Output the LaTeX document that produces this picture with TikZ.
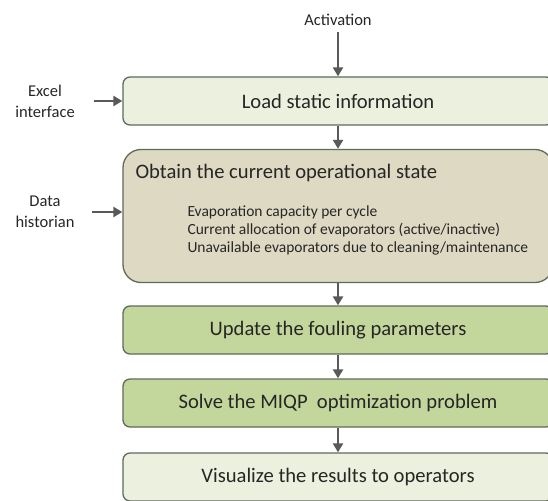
\documentclass[tikz,border=0pt]{standalone}
\usepackage{fontspec}
\setmainfont{Carlito}
\usetikzlibrary{arrows.meta}

\definecolor{boxline}{HTML}{5F6B5B}
\definecolor{arrowgray}{HTML}{595959}
\definecolor{palegreen}{HTML}{EBF1DE}
\definecolor{tanbox}{HTML}{DDD9C3}
\definecolor{midgreen}{HTML}{C3D69B}

\tikzset{
	stepbox/.style={draw=boxline, line width=1.3pt, rounded corners=7pt,
		minimum width=430pt, minimum height=48pt,
		font=\fontsize{20.6}{24}\selectfont, text=black!85},
	flow/.style={-{Triangle[length=9pt,width=10pt]}, draw=arrowgray, line width=2.3pt},
	side/.style={align=center, font=\fontsize{16.5}{21}\selectfont, text=black!85}
}

\begin{document}
\begin{tikzpicture}[x=1pt,y=-1pt]
	\useasboundingbox (0,0) rectangle (548,500);
	\clip (0,0) rectangle (548,500);
	% main flow
	\node[side] (act) at (338,20) {Activation};
	\node[stepbox, fill=palegreen] (load) at (338,101) {Load static information};
	\node[stepbox, fill=tanbox, minimum height=133pt, rounded corners=18pt] (state) at (338,216) {};
	\node[anchor=west, font=\fontsize{20.6}{24}\selectfont, text=black!85] (statetitle) at (132,173) {Obtain the current operational state};
	\node[anchor=north west, align=left, font=\fontsize{15.5}{18}\selectfont, text=black!85] (statelist) at (184,202)
		{Evaporation capacity per cycle\\Current allocation of evaporators (active/inactive)\\Unavailable evaporators due to cleaning/maintenance};
	\node[stepbox, fill=midgreen] (fouling) at (338,330) {Update the fouling parameters};
	\node[stepbox, fill=midgreen] (miqp) at (338,403) {Solve the MIQP\ \ optimization problem};
	\node[stepbox, fill=palegreen] (visual) at (338,477) {Visualize the results to operators};
	% inputs
	\node[side] (excel) at (45,101) {Excel\\interface};
	\node[side] (hist) at (45,212) {Data\\historian};

	\draw[flow, shorten <=3pt] (act) -- (load);
	\draw[flow] (load) -- (state);
	\draw[flow] (state) -- (fouling);
	\draw[flow] (fouling) -- (miqp);
	\draw[flow] (miqp) -- (visual);
	\draw[flow, shorten <=16pt] (excel.east) -- (load.west);
	\draw[flow, shorten <=14pt] (hist.east) -- (hist.east -| state.west);
\end{tikzpicture}
\end{document}
